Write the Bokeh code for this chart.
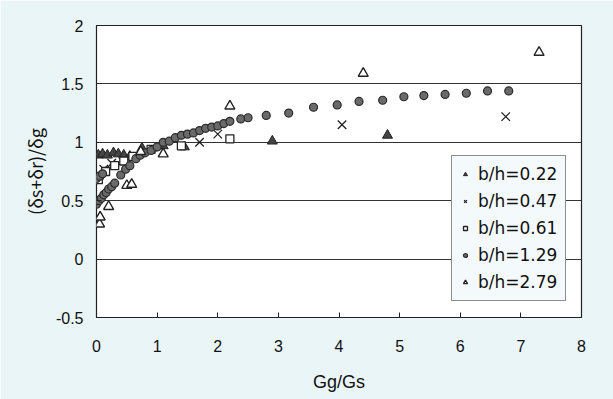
from bokeh.plotting import figure
from bokeh.models import Legend, LegendItem, FixedTicker, Range1d
from bokeh.embed import file_html
from bokeh.resources import INLINE

# b/h = 0.22 (filled triangles)
x022 = [0.03, 0.1, 0.18, 0.28, 0.36, 0.45, 0.55, 0.75, 1.1, 1.45, 2.9, 4.8]
y022 = [0.89, 0.9, 0.89, 0.91, 0.9, 0.89, 0.88, 0.95, 0.97, 0.96, 1.01, 1.06]
# b/h = 0.47 (crosses)
x047 = [0.05, 0.12, 0.25, 0.45, 0.6, 1.05, 1.7, 2.0, 4.05, 6.75]
y047 = [0.72, 0.77, 0.82, 0.84, 0.88, 0.96, 1.0, 1.07, 1.15, 1.22]
# b/h = 0.61 (open squares)
x061 = [0.03, 0.15, 0.3, 0.45, 0.6, 0.9, 1.4, 2.2]
y061 = [0.68, 0.75, 0.8, 0.84, 0.88, 0.94, 0.97, 1.03]
# b/h = 1.29 (filled circles)
x129 = [0.0, 0.04, 0.08, 0.12, 0.16, 0.2, 0.25, 0.3, 0.0, 0.05, 0.1, 0.4, 0.48,
        0.55, 0.65, 0.72, 0.8, 0.9, 1.0, 1.1, 1.2, 1.3, 1.4, 1.5, 1.6, 1.7, 1.8,
        1.9, 2.0, 2.1, 2.2, 2.38, 2.5, 2.8, 3.17, 3.58, 3.97, 4.33, 4.72, 5.07,
        5.4, 5.75, 6.1, 6.45, 6.8]
y129 = [0.47, 0.5, 0.52, 0.55, 0.57, 0.6, 0.62, 0.65, 0.69, 0.71, 0.73, 0.72, 0.77,
        0.8, 0.86, 0.89, 0.91, 0.93, 0.96, 1.0, 1.01, 1.04, 1.06, 1.07, 1.08, 1.1, 1.12,
        1.13, 1.14, 1.16, 1.18, 1.2, 1.21, 1.23, 1.25, 1.3, 1.32, 1.35, 1.36, 1.39,
        1.4, 1.41, 1.42, 1.44, 1.44]
# b/h = 2.79 (open triangles)
x279 = [0.05, 0.06, 0.2, 0.5, 0.58, 0.73, 1.1, 2.2, 4.4, 7.3]
y279 = [0.3, 0.36, 0.45, 0.63, 0.64, 0.92, 0.9, 1.31, 1.59, 1.77]

labels = ["b/h=0.22", "b/h=0.47", "b/h=0.61", "b/h=1.29", "b/h=2.79"]
xticks = [0, 1, 2, 3, 4, 5, 6, 7, 8]
yticks = [-0.5, 0, 0.5, 1, 1.5, 2]

BG = "#eaf5f8"
p = figure(width=613, height=399, output_backend="svg", toolbar_location=None,
           x_range=Range1d(0, 8), y_range=Range1d(-0.5, 2),
           min_border_left=96, min_border_right=32, min_border_top=25,
           min_border_bottom=82)
p.border_fill_color = BG
p.background_fill_color = "white"
p.outline_line_color = "#222222"
p.outline_line_width = 1.2

p.xgrid.visible = False
p.ygrid.ticker = FixedTicker(ticks=yticks)
p.ygrid.grid_line_color = "#333333"
p.ygrid.grid_line_width = 1

p.xaxis.ticker = FixedTicker(ticks=xticks)
p.yaxis.ticker = FixedTicker(ticks=yticks)
p.xaxis.major_label_overrides = {t: str(t) for t in xticks}
p.yaxis.major_label_overrides = {-0.5: "-0.5", 0: "0", 0.5: "0.5", 1: "1", 1.5: "1.5", 2: "2"}
for ax in (p.xaxis, p.yaxis):
    ax.axis_line_color = None
    ax.minor_tick_line_color = None
    ax.major_label_text_font = "Liberation Sans"
    ax.major_label_text_font_size = "16px"
    ax.major_label_text_color = "#111111"
    ax.axis_label_text_font_style = "normal"
    ax.axis_label_text_color = "#111111"
    ax.major_tick_in = 5
    ax.major_tick_out = 0
    ax.major_tick_line_color = "#222222"
p.xaxis.major_label_standoff = 22
p.yaxis.major_label_standoff = 13
p.xaxis.axis_label = "Gg/Gs"
p.xaxis.axis_label_standoff = 17
p.xaxis.axis_label_text_font = "Liberation Sans"
p.xaxis.axis_label_text_font_size = "18px"
p.yaxis.axis_label = "(δs+δr)/δg"
p.yaxis.axis_label_standoff = 5
p.yaxis.axis_label_text_font = "Noto Sans CJK JP"
p.yaxis.axis_label_text_font_size = "18px"

r1 = p.scatter(x022, y022, marker="triangle", size=10, fill_color="#444444",
               line_color="#222222", line_width=1)
r2 = p.scatter(x047, y047, marker="x", size=12, line_color="#222222", line_width=1.3)
r3 = p.scatter(x061, y061, marker="square", size=8, fill_color="white",
               line_color="#222222", line_width=1.3)
r4 = p.scatter(x129, y129, marker="circle", size=8, fill_color="#6a6a6a",
               line_color="#2a2a2a", line_width=1.2)
r5 = p.scatter(x279, y279, marker="triangle", size=10, fill_color="white",
               line_color="#222222", line_width=1.4)

legend = Legend(items=[LegendItem(label=l, renderers=[r]) for l, r in
                       zip(labels, [r1, r2, r3, r4, r5])],
                location=(355, 16))
legend.label_text_font = "DejaVu Sans"
legend.label_text_font_size = "17px"
legend.label_text_color = "#111111"
legend.glyph_width = 10
legend.glyph_height = 18
legend.label_height = 18
legend.spacing = 7
legend.padding = 8
legend.margin = 0
legend.label_standoff = 8
legend.border_line_color = "#222222"
legend.border_line_width = 1.2
legend.background_fill_color = "#f4fafc"
legend.background_fill_alpha = 1.0
p.add_layout(legend)

html = file_html(p, INLINE)
html = html.replace("<body>", '<body style="background:%s">' % BG, 1)
open("out.html", "w").write(html)
